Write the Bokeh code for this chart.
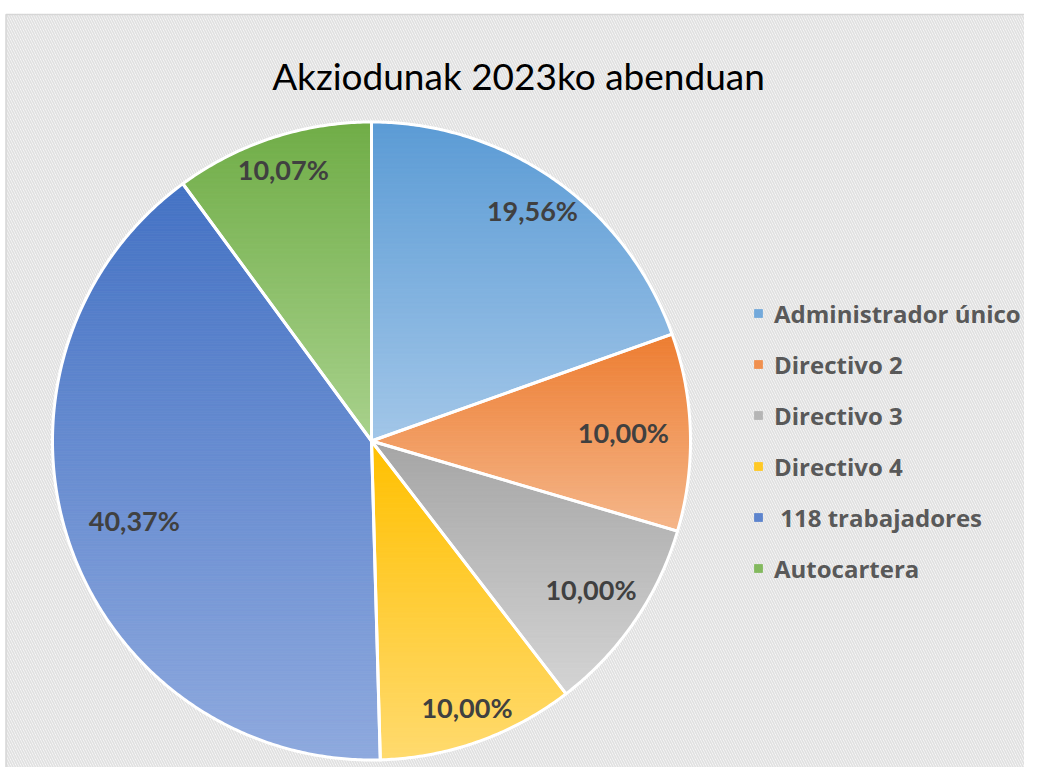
import numpy as np
from bokeh.plotting import figure
from bokeh.models import Range1d, Legend, LegendItem
from bokeh.core.properties import value
from bokeh.embed import file_html
from bokeh.resources import INLINE

# ---------------- data ----------------
title = "Akziodunak 2023ko abenduan"
categories = ["Administrador único", "Directivo 2", "Directivo 3", "Directivo 4",
              " 118 trabajadores", "Autocartera"]
shares = [19.56, 10.00, 10.00, 10.00, 40.37, 10.07]

# ---------------- style ----------------
top_colors = ["#5B9BD5", "#ED7D31", "#A5A5A5", "#FFC000", "#4472C4", "#70AD47"]
bottom_colors = ["#A2C6E8", "#F5B68A", "#D4D4D4", "#FFDA6E", "#8EA9DE", "#A8D18C"]
label_r = [0.875, 0.79, 0.834, 0.893, 0.786, 0.889]   # radial label placement (fraction of R)

CX, CY, R = 371.0, -440.5, 319.0
FONT = "Lato"


def hex2rgb(h):
    h = h.lstrip("#")
    return np.array([int(h[i:i + 2], 16) for i in (0, 2, 4)], dtype=float)


def mix(c0, c1, t):
    c = hex2rgb(c0) * (1 - t) + hex2rgb(c1) * t
    return "#%02x%02x%02x" % tuple(int(round(v)) for v in c)


def slice_poly(a_lo, a_hi):
    n = max(int(np.degrees(a_hi - a_lo) * 2), 6)
    t = np.linspace(a_lo, a_hi, n)
    xs = np.concatenate([[CX], CX + R * np.cos(t)])
    ys = np.concatenate([[CY], CY + R * np.sin(t)])
    return list(zip(xs, ys))


def clip(poly, y, keep_above):
    out = []
    n = len(poly)
    for i in range(n):
        p1, p2 = poly[i], poly[(i + 1) % n]
        in1 = p1[1] >= y if keep_above else p1[1] <= y
        in2 = p2[1] >= y if keep_above else p2[1] <= y
        if in1:
            out.append(p1)
        if in1 != in2:
            t = (y - p1[1]) / (p2[1] - p1[1])
            out.append((p1[0] + t * (p2[0] - p1[0]), y))
    return out


total = float(sum(shares))
cum = np.concatenate([[0.0], np.cumsum(shares)]) / total
a_hi = np.pi / 2 - 2 * np.pi * cum[:-1]
a_lo = np.pi / 2 - 2 * np.pi * cum[1:]
labels = [("%.2f" % v).replace(".", ",") + "%" for v in shares]

p = figure(width=1024, height=767, x_range=Range1d(0, 1024), y_range=Range1d(-767, 0),
           output_backend="svg", toolbar_location=None, min_border=0,
           x_axis_type=None, y_axis_type=None, outline_line_color=None,
           background_fill_color="white", border_fill_color="white")
p.grid.visible = False

# hatched chart area
p.quad(left=[5.5], right=[1060], top=[-14], bottom=[-800], fill_color="white",
       hatch_pattern="left_diagonal_line", hatch_color="#e0e0e0", hatch_scale=5,
       hatch_weight=1.7, line_color="#d6d6d6", line_width=1.5)

legend_items = []
outline_xs, outline_ys = [], []
for i, cat in enumerate(categories):
    poly = slice_poly(a_lo[i], a_hi[i])
    ys_all = [q[1] for q in poly]
    ymin, ymax = min(ys_all), max(ys_all)
    edges = np.arange(ymax, ymin - 2.5, -2.5)
    bx, by, bc = [], [], []
    for k in range(len(edges) - 1):
        y_top, y_bot = edges[k], max(edges[k + 1], ymin)
        part = clip(clip(poly, y_top, False), y_bot, True)
        if len(part) < 3:
            continue
        t = (ymax - 0.5 * (y_top + y_bot)) / (ymax - ymin)
        bx.append([q[0] for q in part])
        by.append([q[1] for q in part])
        bc.append(mix(top_colors[i], bottom_colors[i], min(max(t, 0), 1)))
    r = p.patches(bx, by, fill_color=bc, line_color=bc, line_width=0.8)
    outline_xs.append([q[0] for q in poly])
    outline_ys.append([q[1] for q in poly])
    legend_items.append(LegendItem(label=cat, renderers=[r], index=len(bc) // 3))

# white slice borders
p.patches(outline_xs, outline_ys, fill_alpha=0, line_color="white", line_width=3,
          line_join="round")

# data labels
mid = 0.5 * (a_lo + a_hi)
lx = CX + np.array(label_r) * R * np.cos(mid)
ly = CY + np.array(label_r) * R * np.sin(mid)
p.text(x=lx, y=ly, text=labels, text_font=value(FONT), text_font_style="bold",
       text_font_size="27px", text_color="#404040", text_align="center",
       text_baseline="middle", y_offset=-2)

# title
p.text(x=[518], y=[-75], text=[title], text_font=value(FONT), text_font_size="37px",
       text_color="#000000", text_align="center", text_baseline="alphabetic")

legend = Legend(items=legend_items, location=(753, 182), orientation="vertical",
                glyph_width=10, glyph_height=10, label_standoff=11, label_height=34,
                spacing=17, padding=0, margin=0, border_line_color=None,
                background_fill_alpha=0, label_text_font="Open Sans",
                label_text_font_style="bold", label_text_font_size="24px",
                label_text_color="#595959")
p.add_layout(legend)

open("out.html", "w").write(file_html(p, INLINE))
